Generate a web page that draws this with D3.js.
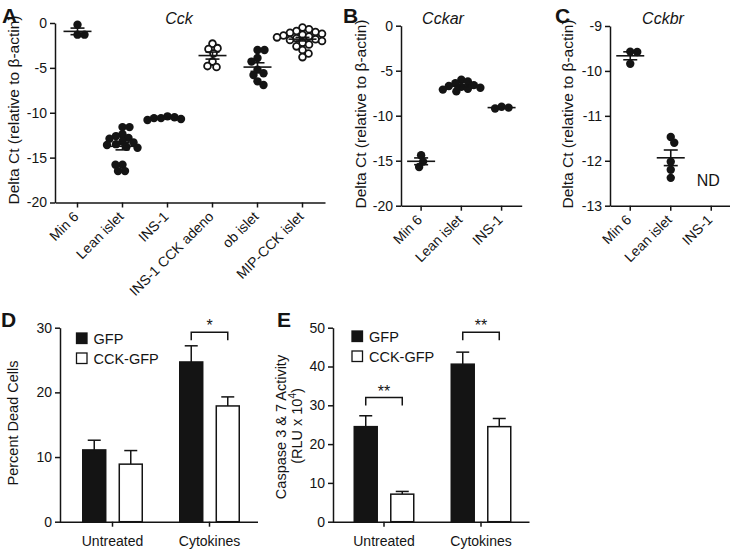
<!DOCTYPE html>
<html><head><meta charset="utf-8">
<script src="https://cdn.jsdelivr.net/npm/d3@7"></script>
<style>
body{margin:0;background:#fff}
svg{display:block}
text{font-family:"Liberation Sans",Arial,Helvetica,sans-serif;fill:#141414}
</style>
</head><body><div id="chart"></div>
<script>
// ---------- DATA ----------
const cckCategories = ["Min 6","Lean islet","INS-1","INS-1 CCK adeno","ob islet","MIP-CCK islet"];
const cckOpenMarker = [false,false,false,true,false,true];
const cckMin6 = [-0.2,-1.3,-1.3];
const cckLeanIslet = [-11.6,-11.6,-12.4,-12.6,-12.8,-12.9,-13.2,-13.3,-13.5,-13.6,-13.8,-13.9,-15.8,-15.8,-16.5,-16.5];
const cckINS1 = [-10.4,-10.5,-10.6,-10.6,-10.7,-10.8];
const cckINS1Adeno = [-2.3,-2.8,-2.9,-3.4,-4.3,-4.8,-4.9];
const cckObIslet = [-3.0,-3.0,-3.9,-4.3,-5.2,-5.6,-5.8,-6.5,-6.9];
const cckMIPIslet = [-0.5,-0.7,-0.9,-1.0,-1.1,-1.2,-1.3,-1.4,-1.5,-1.6,-1.7,-1.8,-1.9,-2.0,-2.2,-2.4,-2.6,-3.0,-3.4,-3.8];
const cckTicks = [0,-5,-10,-15,-20];

const receptorCategories = ["Min 6","Lean islet","INS-1"];
const cckarMin6 = [-14.4,-15.1,-15.7];
const cckarLeanIslet = [-6.0,-6.2,-6.4,-6.6,-6.7,-6.8,-6.9,-7.0,-7.1,-7.3];
const cckarINS1 = [-9.0,-9.1,-9.2];
const cckarTicks = [0,-5,-10,-15,-20];

const cckbrMin6 = [-9.57,-9.58,-9.84];
const cckbrLeanIslet = [-11.47,-11.6,-12.02,-12.2,-12.38];
const cckbrINS1 = []; // not detected
const cckbrTicks = [-9,-10,-11,-12,-13];

const treatments = ["Untreated","Cytokines"];
const seriesNames = ["GFP","CCK-GFP"];
const deadGFP = [11.1,24.7];
const deadGFPSem = [1.5,2.5];
const deadCCK = [8.9,17.9];
const deadCCKSem = [2.1,1.4];
const deadTicks = [0,10,20,30];
const deadSig = ["","*"];
const deadSigLevel = [null,29.3];

const caspGFP = [24.5,40.6];
const caspGFPSem = [2.8,3.1];
const caspCCK = [7.1,24.5];
const caspCCKSem = [0.7,2.1];
const caspTicks = [0,10,20,30,40,50];
const caspSig = ["**","**"];
const caspSigLevel = [32.0,48.8];

// ---------- DRAWING ----------
const W = 730, H = 550;
const INK = "#141414";
const FONT = '"Liberation Sans",Arial,Helvetica,sans-serif';
const svg = d3.select("#chart").append("svg").attr("width",W).attr("height",H);

function txt(){ return svg.append("text").attr("fill",INK).style("fill",INK).attr("font-family",FONT); }

function styleAxis(g){
  g.selectAll("path,line").attr("stroke",INK).attr("stroke-width",1.5);
  g.selectAll("text").attr("font-size",14).attr("fill",INK).attr("font-family",FONT);
}

function swarm(vals, y, minDist){
  const pts = vals.map(v=>({v, py:y(v)})).sort((a,b)=>a.py-b.py);
  const placed = [];
  let flip = 1;
  pts.forEach(p=>{
    let best = 0;
    for(let k=0;k<600;k++){
      const mag = Math.ceil(k/2)*0.5;
      const off = (k%2===1 ? flip : -flip)*mag;
      if(placed.every(q => (q.dx-off)**2 + (q.py-p.py)**2 >= minDist*minDist)){ best = off; break; }
    }
    p.dx = best; if(best!==0) flip = -flip;
    placed.push(p);
  });
  return pts;
}

function ylabel(text, x, yc, fs){
  txt().attr("transform",`translate(${x},${yc}) rotate(-90)`)
    .attr("text-anchor","middle").attr("font-size",fs||14.5).text(text);
}
function letter(t,x,y){
  txt().attr("x",x).attr("y",y).attr("font-size",21).attr("font-weight","bold").text(t);
}

function scatterPanel(cfg){
  const {x, y, cats, groups, open, ticks, title, titleX} = cfg;
  const y0 = y.range()[0];
  const gy = svg.append("g").attr("transform",`translate(${x.range()[0]},0)`)
    .call(d3.axisLeft(y).tickValues(ticks).tickFormat(d=>String(d)).tickSize(5).tickSizeOuter(0).tickPadding(3));
  styleAxis(gy);
  const gx = svg.append("g").attr("transform",`translate(0,${y0})`)
    .call(d3.axisBottom(x).tickSize(5).tickSizeOuter(0).tickFormat(""));
  styleAxis(gx);
  const bw = x.bandwidth();
  cats.forEach(c=>{
    txt().attr("transform",`translate(${x(c)+bw/2+2},${y0+15}) rotate(-45)`)
      .attr("text-anchor","end").attr("font-size",14).text(c);
  });
  txt().attr("x",titleX).attr("y",24).attr("text-anchor","middle")
    .attr("font-size",16).attr("font-style","italic").text(title);

  groups.forEach((vals,i)=>{
    if(!vals.length) return;
    const cx = x(cats[i]) + bw/2;
    const isOpen = open ? open[i] : false;
    const pts = swarm(vals, y, 6.6);
    svg.append("g").selectAll("circle").data(pts).join("circle")
      .attr("cx",d=>cx+d.dx).attr("cy",d=>d.py)
      .attr("r", isOpen ? 3.4 : 4.2)
      .attr("fill", isOpen ? "#fff" : INK)
      .attr("stroke", INK).attr("stroke-width", isOpen ? 1.8 : 0);
    const m = d3.mean(vals);
    const sem = vals.length>1 ? d3.deviation(vals)/Math.sqrt(vals.length) : 0;
    const g = svg.append("g").attr("stroke",INK).attr("stroke-width",1.6);
    g.append("line").attr("x1",cx-14).attr("x2",cx+14).attr("y1",y(m)).attr("y2",y(m));
    g.append("line").attr("x1",cx).attr("x2",cx).attr("y1",y(m+sem)).attr("y2",y(m-sem));
    g.append("line").attr("x1",cx-7).attr("x2",cx+7).attr("y1",y(m+sem)).attr("y2",y(m+sem));
    g.append("line").attr("x1",cx-7).attr("x2",cx+7).attr("y1",y(m-sem)).attr("y2",y(m-sem));
  });
}

// Panel A
const xA = d3.scaleBand().domain(cckCategories).range([55,325]).padding(0);
const yA = d3.scaleLinear().domain([-20,0]).range([202.5,23]);
scatterPanel({x:xA,y:yA,cats:cckCategories,
  groups:[cckMin6,cckLeanIslet,cckINS1,cckINS1Adeno,cckObIslet,cckMIPIslet],
  open:cckOpenMarker,ticks:cckTicks,title:"Cck",titleX:179});
letter("A",2,23);
ylabel("Delta Ct (relative to β-actin)",19,110,15.5);

// Panel B
const xB = d3.scaleBand().domain(receptorCategories).range([401,521.7]).padding(0);
const yB = d3.scaleLinear().domain([-20,0]).range([205.7,25.7]);
scatterPanel({x:xB,y:yB,cats:receptorCategories,groups:[cckarMin6,cckarLeanIslet,cckarINS1],
  ticks:cckarTicks,title:"Cckar",titleX:443});
letter("B",343,23);
ylabel("Delta Ct (relative to β-actin)",366,114,15.5);

// Panel C
const xC = d3.scaleBand().domain(receptorCategories).range([610,731.5]).padding(0);
const yC = d3.scaleLinear().domain([-13,-9]).range([205.7,26]);
scatterPanel({x:xC,y:yC,cats:receptorCategories,groups:[cckbrMin6,cckbrLeanIslet,cckbrINS1],
  ticks:cckbrTicks,title:"Cckbr",titleX:663});
letter("C",555,23);
ylabel("Delta Ct (relative to β-actin)",573,114,15.5);
txt().attr("x",xC("INS-1")+xC.bandwidth()/2-3).attr("y",yC(-12.42)+6)
  .attr("text-anchor","middle").attr("font-size",16).text("ND");

// Bar panels
function barPanel(cfg){
  const {axisX, x0, y, ticks, gfp, gfpSem, cck, cckSem, sig, sigLevel, legX, legY} = cfg;
  const y0 = y.range()[0];
  const inner = d3.scaleBand().domain(seriesNames).range([-30.5,30.5]).paddingInner(0.33).paddingOuter(0);
  const gy = svg.append("g").attr("transform",`translate(${axisX},0)`)
    .call(d3.axisLeft(y).tickValues(ticks).tickFormat(d=>String(d)).tickSize(5).tickSizeOuter(0).tickPadding(3));
  styleAxis(gy);
  const gx = svg.append("g").attr("transform",`translate(0,${y0})`)
    .call(d3.axisBottom(x0).tickSize(5).tickSizeOuter(0).tickFormat(""));
  gx.select(".domain").remove();
  styleAxis(gx);
  svg.append("line").attr("x1",axisX).attr("x2",x0.range()[1]).attr("y1",y0+0.5).attr("y2",y0+0.5)
    .attr("stroke",INK).attr("stroke-width",1.5);
  treatments.forEach(t=>{
    txt().attr("x",x0(t)+x0.bandwidth()/2).attr("y",y0+24)
      .attr("text-anchor","middle").attr("font-size",14).text(t);
  });
  const series = [{name:"GFP",vals:gfp,sem:gfpSem,fill:INK},{name:"CCK-GFP",vals:cck,sem:cckSem,fill:"#fff"}];
  series.forEach(s=>{
    treatments.forEach((t,i)=>{
      const cx = x0(t)+x0.bandwidth()/2 + inner(s.name) + inner.bandwidth()/2;
      const top = y(s.vals[i]+s.sem[i]);
      svg.append("line").attr("x1",cx).attr("x2",cx).attr("y1",y(s.vals[i])).attr("y2",top)
        .attr("stroke",INK).attr("stroke-width",1.5);
      svg.append("line").attr("x1",cx-6.5).attr("x2",cx+6.5).attr("y1",top).attr("y2",top)
        .attr("stroke",INK).attr("stroke-width",1.5);
      svg.append("rect").attr("x",cx-inner.bandwidth()/2+0.75).attr("width",inner.bandwidth()-1.5)
        .attr("y",y(s.vals[i])).attr("height",y0-y(s.vals[i]))
        .attr("fill",s.fill).attr("stroke",INK).attr("stroke-width",1.5);
    });
  });
  treatments.forEach((t,i)=>{
    if(!sig[i]) return;
    const c = x0(t)+x0.bandwidth()/2;
    const xl = c + inner("GFP") + inner.bandwidth()/2;
    const xr = c + inner("CCK-GFP") + inner.bandwidth()/2;
    const yt = y(sigLevel[i]);
    svg.append("path").attr("d",`M${xl},${yt+8}V${yt}H${xr}V${yt+8}`)
      .attr("fill","none").attr("stroke",INK).attr("stroke-width",1.5);
    txt().attr("x",(xl+xr)/2).attr("y",yt-1).attr("text-anchor","middle")
      .attr("font-size",16).text(sig[i]);
  });
  // legend
  series.forEach((s,k)=>{
    svg.append("rect").attr("x",legX).attr("y",legY+k*20).attr("width",10.5).attr("height",10.5)
      .attr("fill",s.fill).attr("stroke",INK).attr("stroke-width",1.3);
    txt().attr("x",legX+17).attr("y",legY+k*20+10.5).attr("font-size",14.5).text(s.name);
  });
}

const xD = d3.scaleBand().domain(treatments).range([64,258]).padding(0);
const yD = d3.scaleLinear().domain([0,30]).range([521.7,327.7]);
barPanel({axisX:60,x0:xD,y:yD,ticks:deadTicks,gfp:deadGFP,gfpSem:deadGFPSem,cck:deadCCK,cckSem:deadCCKSem,
  sig:deadSig,sigLevel:deadSigLevel,legX:76.5,legY:333});
letter("D",1,327);
ylabel("Percent Dead Cells",18,423);

const xE = d3.scaleBand().domain(treatments).range([335.5,529.5]).padding(0);
const yE = d3.scaleLinear().domain([0,50]).range([521.7,327.7]);
barPanel({axisX:333,x0:xE,y:yE,ticks:caspTicks,gfp:caspGFP,gfpSem:caspGFPSem,cck:caspCCK,cckSem:caspCCKSem,
  sig:caspSig,sigLevel:caspSigLevel,legX:352,legY:331});
letter("E",277,327);
ylabel("Caspase 3 & 7 Activity",285.5,427);
const l2 = txt().attr("transform",`translate(302,426) rotate(-90)`)
  .attr("text-anchor","middle").attr("font-size",14.5);
l2.append("tspan").text("(RLU x 10");
l2.append("tspan").attr("font-size",10).attr("dy",-6).text("4");
l2.append("tspan").attr("dy",6).text(")");
</script>
</body></html>
